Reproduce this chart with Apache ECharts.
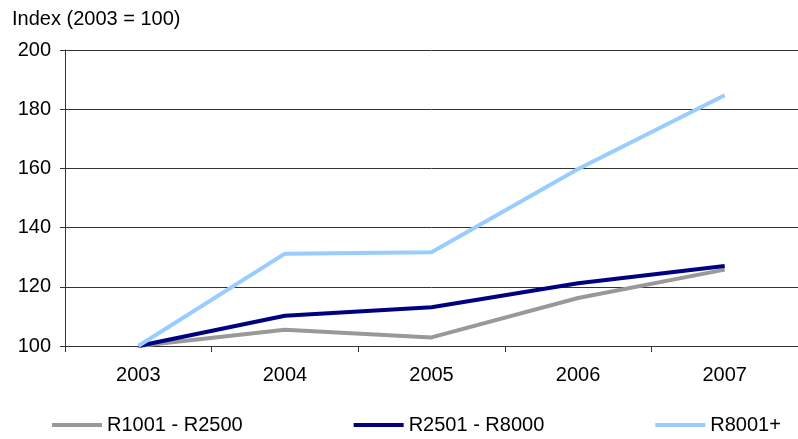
<!DOCTYPE html>
<html lang="en">
    <head>
        <meta charset="UTF-8" />
        <title>Index (2003 = 100)</title>
        <script src="https://cdn.jsdelivr.net/npm/echarts@6/dist/echarts.min.js"></script>
        <style>
            html, body { margin: 0; padding: 0; background: #fff; }
            #chart { width: 798px; height: 439px; }
        </style>
    </head>
    <body>
        <div id="chart"></div>
        <script>
            // data
            var years = ['2003', '2004', '2005', '2006', '2007'];
            var low = [100, 105.5, 102.9, 116.2, 125.8];   // R1001 - R2500
            var mid = [100, 110.2, 113.1, 121.2, 127.0];   // R2501 - R8000
            var high = [100, 131.2, 131.7, 159.8, 184.7];  // R8001+
            var seriesNames = ['R1001 - R2500', 'R2501 - R8000', 'R8001+'];
            var seriesColors = ['#999999', '#000080', '#99ccff'];

            var myChart = echarts.init(document.getElementById('chart'));
            var font = 'Liberation Sans, Arial, sans-serif';

            var option = {
                animation: false,
                textStyle: { fontFamily: font },
                title: {
                    text: 'Index (2003 = 100)',
                    left: 7,
                    top: 4,
                    textStyle: { fontSize: 20, fontWeight: 'normal', color: '#000', fontFamily: font }
                },
                grid: { left: 65, right: 0, top: 50, bottom: 93 },
                legend: {
                    left: 47,
                    top: 410,
                    icon: 'rect',
                    itemWidth: 50,
                    itemHeight: 4,
                    itemGap: 111,
                    textStyle: { fontSize: 20, color: '#000' },
                    data: seriesNames
                },
                xAxis: {
                    type: 'category',
                    data: years,
                    boundaryGap: true,
                    axisLine: { lineStyle: { color: '#333', width: 1 } },
                    axisTick: { show: true, length: 6, lineStyle: { color: '#333' } },
                    axisLabel: { fontSize: 20, color: '#000', margin: 19 }
                },
                yAxis: {
                    type: 'value',
                    min: 100,
                    max: 200,
                    interval: 20,
                    axisLine: { show: true, lineStyle: { color: '#333', width: 1 } },
                    axisTick: { show: true, length: 5, lineStyle: { color: '#333' } },
                    axisLabel: { fontSize: 20, color: '#000', margin: 14 },
                    splitLine: { lineStyle: { color: '#333', width: 1 } }
                },
                series: [low, mid, high].map(function (vals, i) {
                    return {
                        name: seriesNames[i],
                        type: 'line',
                        data: vals,
                        showSymbol: false,
                        symbol: 'none',
                        itemStyle: { color: seriesColors[i] },
                        lineStyle: { color: seriesColors[i], width: 4 }
                    };
                })
            };

            myChart.setOption(option);
        </script>
    </body>
</html>
